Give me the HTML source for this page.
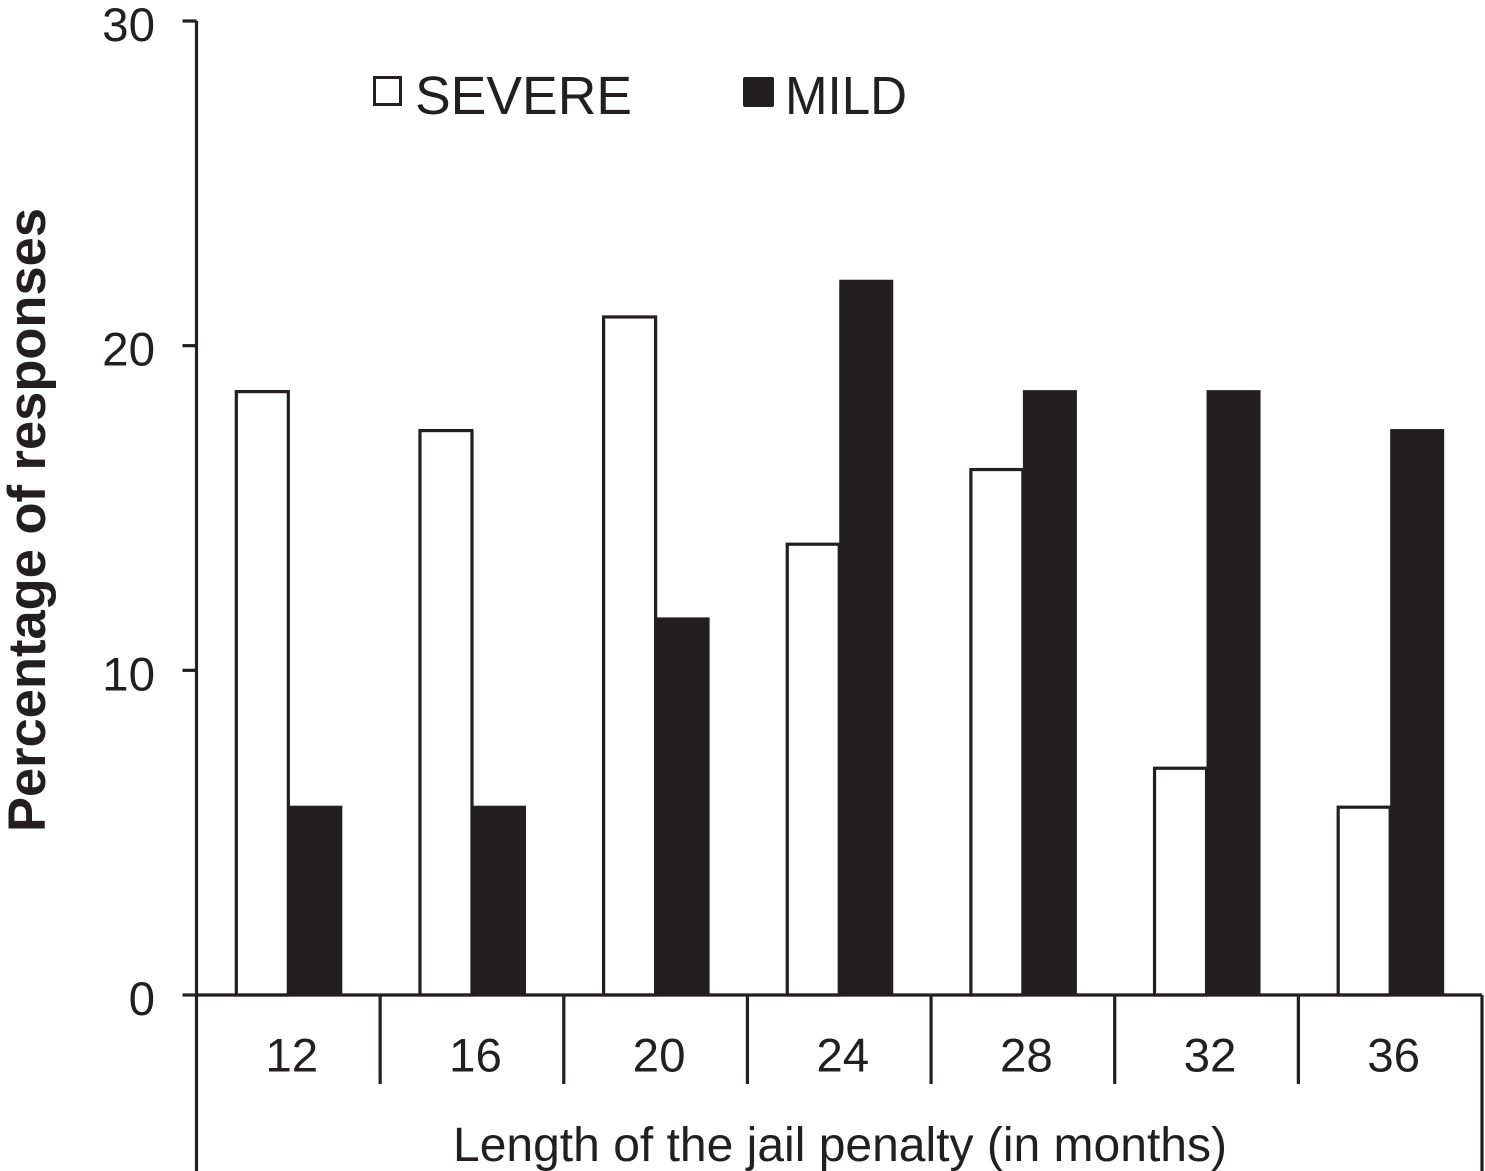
<!DOCTYPE html>
<html lang="en">
<head>
<meta charset="utf-8">
<title>Percentage of responses by length of the jail penalty</title>
<style>
  html, body { margin: 0; padding: 0; background: #fff; }
  svg { display: block; font-family: "Liberation Sans", sans-serif; fill: #231f20; }
</style>
</head>
<body>
<svg id="chart" xmlns="http://www.w3.org/2000/svg" width="1485" height="1171" viewBox="0 0 1485 1171">
  <rect x="374.5" y="77.5" width="26" height="27" fill="#fff" stroke="#231f20" stroke-width="3"/>
  <text x="415" y="114" font-size="54" textLength="217" lengthAdjust="spacingAndGlyphs">SEVERE</text>
  <rect x="743" y="77" width="31" height="30" rx="2" fill="#231f20"/>
  <text x="785" y="114" font-size="54" textLength="122" lengthAdjust="spacingAndGlyphs">MILD</text>
  <text transform="translate(45,832) rotate(-90)" font-size="52.6" font-weight="bold" textLength="624" lengthAdjust="spacingAndGlyphs">Percentage of responses</text>
  <text x="453" y="1161" font-size="48" textLength="774" lengthAdjust="spacingAndGlyphs">Length of the jail penalty (in months)</text>
</svg>
<script>
const categories = ["12", "16", "20", "24", "28", "32", "36"];
const severeValues = [18.6, 17.4, 20.9, 13.9, 16.2, 7.0, 5.8];
const mildValues = [5.8, 5.8, 11.6, 22.0, 18.6, 18.6, 17.4];
const tickValues = [0, 10, 20, 30];

const svg = document.getElementById('chart');
const NS = 'http://www.w3.org/2000/svg';
const INK = '#231f20';
const plotLeft = 196.5, plotRight = 1482, yZero = 995, yTop = 21, yMax = 30;
const barWidth = 53;
const lineWidth = 3.2;

function yScale(v) { return yZero - (v / yMax) * (yZero - yTop); }
function bandWidth() { return (plotRight - plotLeft) / categories.length; }
function xEdge(i) { return plotLeft + i * bandWidth(); }
function xCenter(i) { return xEdge(i) + bandWidth() / 2; }

function make(tag, attrs) {
  const el = document.createElementNS(NS, tag);
  for (const k in attrs) el.setAttribute(k, attrs[k]);
  svg.appendChild(el);
  return el;
}

severeValues.forEach(function (v, i) {
  const el = make('rect', { x: xCenter(i) - barWidth + 1, y: yScale(v) + 0.5, width: barWidth - 1, height: yZero - yScale(v) - 0.5, fill: '#fff', stroke: INK, 'stroke-width': lineWidth });
  
  
});

mildValues.forEach(function (v, i) {
  const el = make('rect', { x: xCenter(i), y: yScale(v) - 1, width: barWidth + 1, height: yZero - yScale(v) + 1, fill: INK });
  
  
});

const yAxis = make('line', { x1: plotLeft, y1: yTop, x2: plotLeft, y2: 1171, stroke: INK, 'stroke-width': lineWidth });



const xAxis = make('line', { x1: plotLeft, y1: yZero, x2: plotRight, y2: yZero, stroke: INK, 'stroke-width': lineWidth });



const rightEdge = make('line', { x1: plotRight, y1: yZero, x2: plotRight, y2: 1171, stroke: INK, 'stroke-width': lineWidth });



tickValues.forEach(function (t) {
  const tick = make('line', { x1: plotLeft - 14, y1: yScale(t), x2: plotLeft, y2: yScale(t), stroke: INK, 'stroke-width': lineWidth });
  
  
  const label = make('text', { x: 155, y: yScale(t) + 20, 'text-anchor': 'end', 'font-size': 47.5 });
  label.textContent = String(t);
  
  
});

categories.forEach(function (c, i) {
  if (i > 0) {
    const sep = make('line', { x1: xEdge(i), y1: yZero, x2: xEdge(i), y2: 1084, stroke: INK, 'stroke-width': lineWidth });
    
    
  }
  const label = make('text', { x: xCenter(i) + 3.5, y: 1071.5, 'text-anchor': 'middle', 'font-size': 47.5 });
  label.textContent = c;
  
  
});
</script>
</body>
</html>
